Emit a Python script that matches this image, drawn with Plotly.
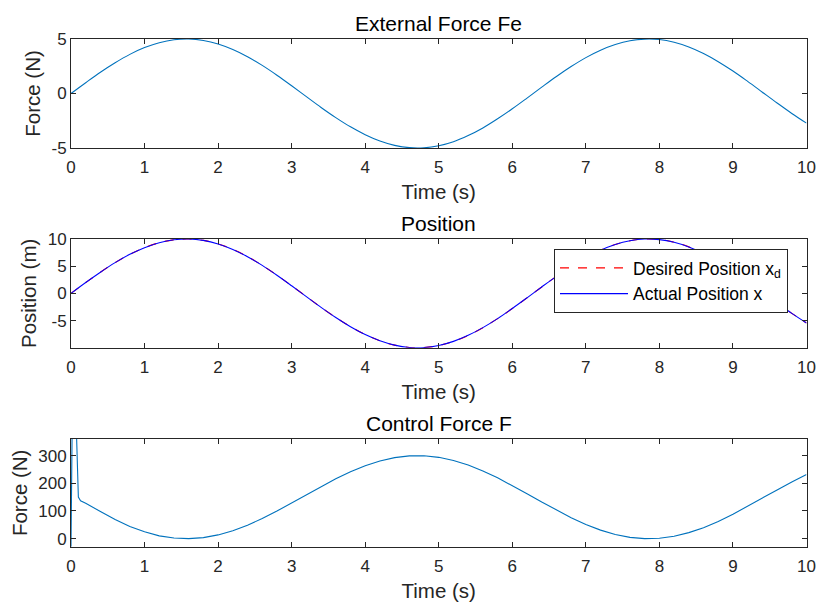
import plotly.graph_objects as go
from plotly.subplots import make_subplots

# ---- data ----
t = [round(0.2 * i, 1) for i in range(51)]

fe = [0, 0.99, 1.95, 2.82, 3.59, 4.21, 4.66, 4.93, 5.00, 4.87, 4.55, 4.04, 3.38, 2.58,
      1.68, 0.71, -0.29, -1.28, -2.21, -3.06, -3.78, -4.36, -4.76, -4.97, -4.98, -4.79,
      -4.42, -3.86, -3.16, -2.32, -1.40, -0.42, 0.58, 1.56, 2.47, 3.29, 3.97, 4.49, 4.84,
      4.99, 4.95, 4.70, 4.27, 3.67, 2.92, 2.06, 1.11, 0.12, -0.87, -1.83, -2.72]

pos_desired = [0, 1.99, 3.89, 5.65, 7.17, 8.41, 9.32, 9.85, 10.00, 9.74, 9.09, 8.09, 6.76,
               5.16, 3.35, 1.41, -0.58, -2.56, -4.43, -6.12, -7.57, -8.72, -9.52, -9.94,
               -9.96, -9.59, -8.84, -7.73, -6.31, -4.65, -2.79, -0.83, 1.17, 3.12, 4.94,
               6.57, 7.94, 8.99, 9.68, 9.99, 9.89, 9.41, 8.55, 7.34, 5.85, 4.12, 2.23, 0.25,
               -1.74, -3.67, -5.44]

pos_actual = [0, 2.00, 3.90, 5.66, 7.18, 8.41, 9.32, 9.85, 10.00, 9.74, 9.09, 8.08, 6.75,
              5.15, 3.34, 1.40, -0.59, -2.57, -4.44, -6.13, -7.58, -8.72, -9.52, -9.94,
              -9.96, -9.59, -8.83, -7.72, -6.30, -4.64, -2.78, -0.82, 1.18, 3.13, 4.95,
              6.58, 7.94, 8.99, 9.68, 9.99, 9.89, 9.40, 8.54, 7.33, 5.84, 4.11, 2.22, 0.24,
              -1.75, -3.68, -5.44]

t_ctrl = [0, 0.01, 0.02, 0.05, 0.075, 0.09, 0.1, 0.13] + t[1:]
f_ctrl = [-29, 360, 520, 600, 360, 220, 150, 137,
          128, 98, 69, 44, 25, 10.2, 2.2, 0.1, 3.9, 13.6, 28.7, 48.7, 72.7, 99.8, 128.8,
          158.8, 188.3, 216.4, 241.8, 263.5, 280.7, 292.7, 299.1, 299.4, 293.8, 282.5,
          265.9, 244.7, 219.7, 191.9, 162.5, 132.5, 103.3, 75.9, 51.5, 30.9, 15.2, 4.8,
          0.2, 1.6, 8.9, 21.8, 39.8, 62.3, 88.2, 116.6, 146.3, 176.1, 205.0, 231.6]

x_ticks = list(range(0, 11))
y1_ticks = [-5, 0, 5]
y2_ticks = [-5, 0, 5, 10]
y3_ticks = [0, 100, 200, 300]

titles = ["External Force Fe", "Position", "Control Force F"]

W, H = 818, 603
FONT = "Liberation Sans, Arial, Helvetica, sans-serif"
TXT = "#262626"
MBLUE = "#0072BD"

fig = make_subplots(rows=3, cols=1)

fig.add_trace(go.Scatter(x=t, y=fe, mode="lines", line=dict(color=MBLUE, width=1.1, shape="spline"),
                         showlegend=False), row=1, col=1)
fig.add_trace(go.Scatter(x=t, y=pos_desired, mode="lines", name="Desired Position x<sub>d</sub>",
                         line=dict(color="#FF0000", width=1.1, dash="dash", shape="spline")), row=2, col=1)
fig.add_trace(go.Scatter(x=t, y=pos_actual, mode="lines", name="Actual Position x",
                         line=dict(color="#0000FF", width=1.1, shape="spline")), row=2, col=1)
fig.add_trace(go.Scatter(x=t_ctrl, y=f_ctrl, mode="lines", line=dict(color=MBLUE, width=1.1),
                         showlegend=False), row=3, col=1)

xd = [71 / W, 806.5 / W]
ydoms = [(39, 148), (239, 347.7), (439, 546.7)]

axis_common = dict(showline=True, linecolor=TXT, linewidth=1, mirror="ticks", ticks="inside",
                   ticklen=5, tickcolor=TXT, showgrid=False, zeroline=False, automargin=False,
                   tickfont=dict(family=FONT, size=17, color=TXT))

yranges = [[-5, 5], [-9.99, 10.0], [-29, 360]]
yticks = [y1_ticks, y2_ticks, y3_ticks]
ylabels = ["Force (N)", "Position (m)", "Force (N)"]

for i in range(3):
    top, bot = ydoms[i]
    n = "" if i == 0 else str(i + 1)
    fig.layout["xaxis" + n].update(domain=xd, range=[0, 10], tickvals=x_ticks,
                                   ticktext=[str(v) for v in x_ticks], ticklabelstandoff=4,
                                   title=dict(text="Time (s)", font=dict(family=FONT, size=20.5, color=TXT),
                                              standoff=8),
                                   **axis_common)
    fig.layout["yaxis" + n].update(domain=[1 - bot / H, 1 - top / H], range=yranges[i],
                                   tickvals=yticks[i], ticktext=[str(v) for v in yticks[i]],
                                   title=dict(text=ylabels[i], font=dict(family=FONT, size=20.5, color=TXT),
                                              standoff=5),
                                   **axis_common)
    fig.add_annotation(text=titles[i], xref="paper", yref="paper", x=(xd[0] + xd[1]) / 2,
                       y=1 - top / H, yanchor="bottom", xanchor="center", yshift=2, showarrow=False,
                       font=dict(family=FONT, size=21, color="#000000"))

fig.update_layout(
    width=W, height=H, margin=dict(l=0, r=0, t=0, b=0),
    paper_bgcolor="white", plot_bgcolor="white",
    font=dict(family=FONT, color=TXT),
    legend=dict(x=554 / W, y=1 - 249 / H, xanchor="left", yanchor="top",
                bgcolor="white", bordercolor="#262626", borderwidth=1,
                font=dict(family=FONT, size=17.5, color="#000000"),
                itemwidth=68, tracegroupgap=0),
)

fig.write_html("out.html")
